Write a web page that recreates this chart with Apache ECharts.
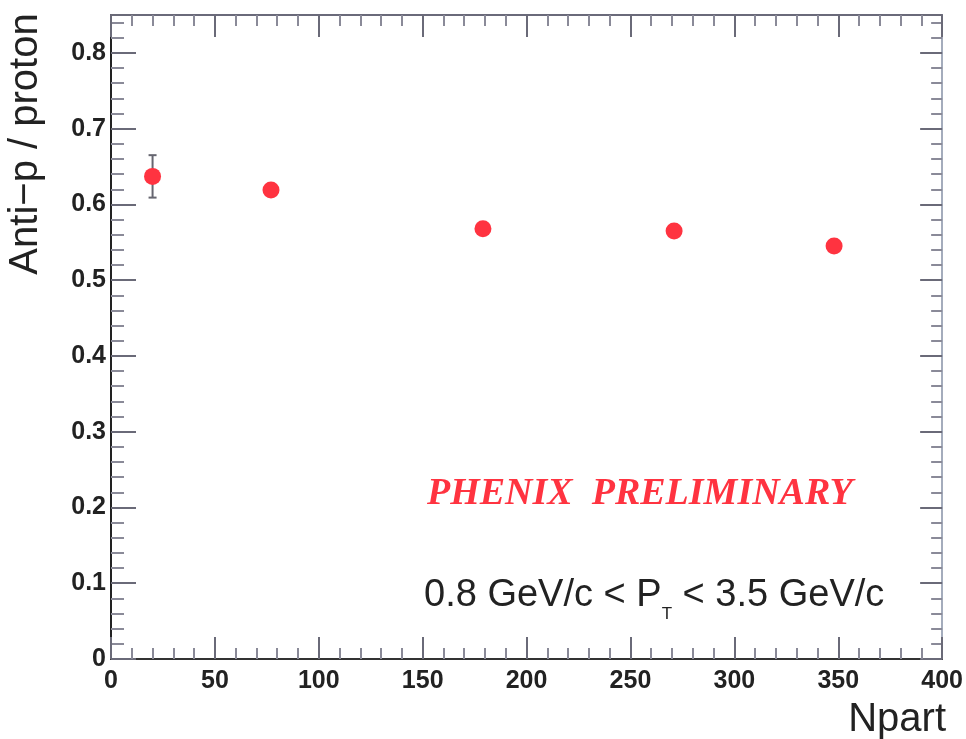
<!DOCTYPE html>
<html>
<head>
<meta charset="utf-8">
<script src="https://cdn.jsdelivr.net/npm/echarts@6/dist/echarts.min.js"></script>
<style>
  html, body { margin: 0; padding: 0; background: #fff; }
  #chart { width: 966px; height: 739px; }
</style>
</head>
<body>
<div id="chart"></div>
<script>
// measured points (Npart, anti-p/p ratio, stat error)
const npart = [20, 77, 179, 271, 348];
const ratio = [0.637, 0.619, 0.568, 0.565, 0.545];
const ratioErr = [0.028, 0.006, 0.005, 0.005, 0.005];

const xRange = [0, 400];
const yRange = [0, 0.85];

const red = '#ff3340';
const labelFont = 'Liberation Sans, Arial, sans-serif';

const chart = echarts.init(document.getElementById('chart'));

function axisCommon(showLabel, lineColor) {
  return {
    axisLine: { show: true, onZero: false, lineStyle: { color: lineColor, width: 2 } },
    axisTick: { show: true, inside: true, length: 22, lineStyle: { color: '#6a6a78', width: 2 } },
    minorTick: { show: true, splitNumber: 5, length: 11, lineStyle: { color: '#8a8a98', width: 2 } },
    splitLine: { show: false },
    axisLabel: {
      show: showLabel, color: '#222', fontFamily: labelFont, fontWeight: 'bold', fontSize: 25
    }
  };
}

const bottomX = axisCommon(true, '#333');
bottomX.axisLabel.margin = 10;
const leftY = axisCommon(true, '#222');
leftY.axisLabel.margin = 5;
leftY.axisLabel.showMaxLabel = false;
leftY.axisTick.length = 25;
leftY.minorTick.length = 13;

const option = {
  backgroundColor: '#fff',
  animation: false,
  grid: { left: 111, right: 22, top: 15, bottom: 80 },
  xAxis: [
    Object.assign({ type: 'value', position: 'bottom', min: xRange[0], max: xRange[1], interval: 50 }, bottomX),
    Object.assign({ type: 'value', position: 'top', min: xRange[0], max: xRange[1], interval: 50 }, axisCommon(false, '#6a6a7a'))
  ],
  yAxis: [
    Object.assign({ type: 'value', position: 'left', min: yRange[0], max: yRange[1], interval: 0.1 }, leftY),
    Object.assign({ type: 'value', position: 'right', min: yRange[0], max: yRange[1], interval: 0.1 }, axisCommon(false, '#a4acbc'))
  ],
  series: [
    {
      type: 'custom',
      z: 2,
      xAxisIndex: 0,
      yAxisIndex: 0,
      data: npart.map((x, i) => [x, ratio[i] - ratioErr[i], ratio[i] + ratioErr[i]]),
      renderItem: function (params, api) {
        const lo = api.coord([api.value(0), api.value(1)]);
        const hi = api.coord([api.value(0), api.value(2)]);
        const w = 4;
        const style = { stroke: '#666670', lineWidth: 2 };
        return {
          type: 'group',
          children: [
            { type: 'line', shape: { x1: lo[0], y1: lo[1], x2: hi[0], y2: hi[1] }, style: style },
            { type: 'line', shape: { x1: lo[0] - w, y1: lo[1], x2: lo[0] + w, y2: lo[1] }, style: style },
            { type: 'line', shape: { x1: hi[0] - w, y1: hi[1], x2: hi[0] + w, y2: hi[1] }, style: style }
          ]
        };
      }
    },
    {
      type: 'scatter',
      z: 3,
      xAxisIndex: 0,
      yAxisIndex: 0,
      symbol: 'circle',
      symbolSize: 17,
      itemStyle: { color: red, opacity: 1 },
      data: npart.map((x, i) => [x, ratio[i]])
    }
  ],
  graphic: [
    {
      type: 'text',
      x: 26, y: 144,
      rotation: Math.PI / 2,
      style: {
        text: 'Anti\u2212p / proton',
        font: '40px ' + labelFont,
        fill: '#222',
        align: 'center',
        verticalAlign: 'middle'
      }
    },
    {
      type: 'text',
      x: 946, y: 720,
      style: {
        text: 'Npart',
        font: '40px ' + labelFont,
        fill: '#222',
        align: 'right',
        verticalAlign: 'middle'
      }
    },
    {
      type: 'text',
      x: 427, y: 494,
      style: {
        text: 'PHENIX  PRELIMINARY',
        font: 'italic bold 38px "Liberation Serif", "Times New Roman", serif',
        fill: red,
        align: 'left',
        verticalAlign: 'middle'
      }
    },
    {
      type: 'text',
      x: 424, y: 596,
      style: {
        text: '{a|0.8 GeV/c < P}{s|T}{a| < 3.5 GeV/c}',
        align: 'left',
        verticalAlign: 'middle',
        rich: {
          a: { fontFamily: labelFont, fontSize: 38, lineHeight: 54, fill: '#222', color: '#222' },
          s: { fontFamily: labelFont, fontSize: 17, lineHeight: 17, verticalAlign: 'bottom', fill: '#222', color: '#222' }
        }
      }
    }
  ]
};

chart.setOption(option);
</script>
</body>
</html>
